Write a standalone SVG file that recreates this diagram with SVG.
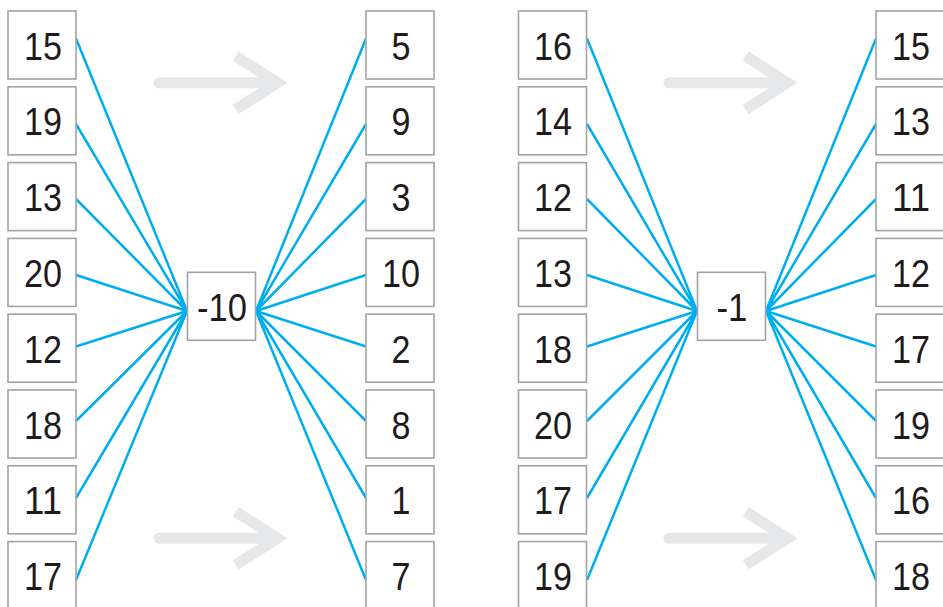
<svg xmlns="http://www.w3.org/2000/svg" width="943" height="607" viewBox="0 0 943 607">
<style>
.bx{fill:#fff;stroke:#a3a3a3;stroke-width:1.6}
.t{font-family:"Liberation Sans",Arial,sans-serif;font-size:39px;fill:#1f1b1c;text-anchor:middle}
.ln{stroke:#00aeef;stroke-width:2.5;fill:none}
.sh{stroke:#e6e7e8;stroke-width:11;stroke-linecap:round;fill:none}
.hd{stroke:#e6e7e8;stroke-width:11;stroke-linejoin:miter;stroke-miterlimit:4;stroke-linecap:butt;fill:none}
</style>
<rect width="943" height="607" fill="#fff"/>
<g id="arrows">
<line class="sh" x1="159" y1="82.8" x2="276" y2="82.8"/>
<polyline class="hd" points="235.7,56.2 277.4,82.8 235.7,109.4"/>
<line class="sh" x1="159" y1="538.3" x2="276" y2="538.3"/>
<polyline class="hd" points="235.7,511.7 277.4,538.3 235.7,564.9"/>
<line class="sh" x1="669" y1="82.8" x2="786" y2="82.8"/>
<polyline class="hd" points="745.7,56.2 787.4,82.8 745.7,109.4"/>
<line class="sh" x1="669" y1="538.3" x2="786" y2="538.3"/>
<polyline class="hd" points="745.7,511.7 787.4,538.3 745.7,564.9"/>
</g>
<g id="connectors">
<path class="ln" d="M76,38.5L187,311M76,124L187,311M76,199L187,311M76,275L187,311M76,346.5L187,311M76,421L187,311M76,498L187,311M76,580L187,311"/>
<path class="ln" d="M366,38.5L256,311M366,124L256,311M366,199L256,311M366,275L256,311M366,346.5L256,311M366,421L256,311M366,498L256,311M366,580L256,311"/>
<path class="ln" d="M587,38.5L697,311M587,124L697,311M587,199L697,311M587,275L697,311M587,346.5L697,311M587,421L697,311M587,498L697,311M587,580L697,311"/>
<path class="ln" d="M876,38.5L766,311M876,124L766,311M876,199L766,311M876,275L766,311M876,346.5L766,311M876,421L766,311M876,498L766,311M876,580L766,311"/>
</g>
<g id="g1-left">
<g id="n1-l1"><rect class="bx" x="8" y="11" width="68" height="68"/><text class="t" x="43" y="59.5" textLength="38" lengthAdjust="spacingAndGlyphs">15</text></g>
<g id="n1-l2"><rect class="bx" x="8" y="86.8" width="68" height="68"/><text class="t" x="43" y="135.3" textLength="38" lengthAdjust="spacingAndGlyphs">19</text></g>
<g id="n1-l3"><rect class="bx" x="8" y="162.6" width="68" height="68"/><text class="t" x="43" y="211.1" textLength="38" lengthAdjust="spacingAndGlyphs">13</text></g>
<g id="n1-l4"><rect class="bx" x="8" y="238.4" width="68" height="68"/><text class="t" x="43" y="286.9" textLength="38" lengthAdjust="spacingAndGlyphs">20</text></g>
<g id="n1-l5"><rect class="bx" x="8" y="314.2" width="68" height="68"/><text class="t" x="43" y="362.7" textLength="38" lengthAdjust="spacingAndGlyphs">12</text></g>
<g id="n1-l6"><rect class="bx" x="8" y="390" width="68" height="68"/><text class="t" x="43" y="438.5" textLength="38" lengthAdjust="spacingAndGlyphs">18</text></g>
<g id="n1-l7"><rect class="bx" x="8" y="465.8" width="68" height="68"/><text class="t" x="43" y="514.3" textLength="38" lengthAdjust="spacingAndGlyphs">11</text></g>
<g id="n1-l8"><rect class="bx" x="8" y="541.6" width="68" height="68"/><text class="t" x="43" y="590.1" textLength="38" lengthAdjust="spacingAndGlyphs">17</text></g>
</g>
<g id="n1-center"><rect class="bx" x="187.5" y="272.3" width="68" height="68"/><text class="t" x="222" y="320.8" textLength="50" lengthAdjust="spacingAndGlyphs">-10</text></g>
<g id="g1-right">
<g id="n1-r1"><rect class="bx" x="366" y="11" width="68" height="68"/><text class="t" x="401" y="59.5" textLength="19" lengthAdjust="spacingAndGlyphs">5</text></g>
<g id="n1-r2"><rect class="bx" x="366" y="86.8" width="68" height="68"/><text class="t" x="401" y="135.3" textLength="19" lengthAdjust="spacingAndGlyphs">9</text></g>
<g id="n1-r3"><rect class="bx" x="366" y="162.6" width="68" height="68"/><text class="t" x="401" y="211.1" textLength="19" lengthAdjust="spacingAndGlyphs">3</text></g>
<g id="n1-r4"><rect class="bx" x="366" y="238.4" width="68" height="68"/><text class="t" x="401" y="286.9" textLength="38" lengthAdjust="spacingAndGlyphs">10</text></g>
<g id="n1-r5"><rect class="bx" x="366" y="314.2" width="68" height="68"/><text class="t" x="401" y="362.7" textLength="19" lengthAdjust="spacingAndGlyphs">2</text></g>
<g id="n1-r6"><rect class="bx" x="366" y="390" width="68" height="68"/><text class="t" x="401" y="438.5" textLength="19" lengthAdjust="spacingAndGlyphs">8</text></g>
<g id="n1-r7"><rect class="bx" x="366" y="465.8" width="68" height="68"/><text class="t" x="401" y="514.3" textLength="19" lengthAdjust="spacingAndGlyphs">1</text></g>
<g id="n1-r8"><rect class="bx" x="366" y="541.6" width="68" height="68"/><text class="t" x="401" y="590.1" textLength="19" lengthAdjust="spacingAndGlyphs">7</text></g>
</g>
<g id="g2-left">
<g id="n2-l1"><rect class="bx" x="518.5" y="11" width="68" height="68"/><text class="t" x="553" y="59.5" textLength="38" lengthAdjust="spacingAndGlyphs">16</text></g>
<g id="n2-l2"><rect class="bx" x="518.5" y="86.8" width="68" height="68"/><text class="t" x="553" y="135.3" textLength="38" lengthAdjust="spacingAndGlyphs">14</text></g>
<g id="n2-l3"><rect class="bx" x="518.5" y="162.6" width="68" height="68"/><text class="t" x="553" y="211.1" textLength="38" lengthAdjust="spacingAndGlyphs">12</text></g>
<g id="n2-l4"><rect class="bx" x="518.5" y="238.4" width="68" height="68"/><text class="t" x="553" y="286.9" textLength="38" lengthAdjust="spacingAndGlyphs">13</text></g>
<g id="n2-l5"><rect class="bx" x="518.5" y="314.2" width="68" height="68"/><text class="t" x="553" y="362.7" textLength="38" lengthAdjust="spacingAndGlyphs">18</text></g>
<g id="n2-l6"><rect class="bx" x="518.5" y="390" width="68" height="68"/><text class="t" x="553" y="438.5" textLength="38" lengthAdjust="spacingAndGlyphs">20</text></g>
<g id="n2-l7"><rect class="bx" x="518.5" y="465.8" width="68" height="68"/><text class="t" x="553" y="514.3" textLength="38" lengthAdjust="spacingAndGlyphs">17</text></g>
<g id="n2-l8"><rect class="bx" x="518.5" y="541.6" width="68" height="68"/><text class="t" x="553" y="590.1" textLength="38" lengthAdjust="spacingAndGlyphs">19</text></g>
</g>
<g id="n2-center"><rect class="bx" x="697.5" y="272.3" width="68" height="68"/><text class="t" x="732" y="320.8" textLength="31" lengthAdjust="spacingAndGlyphs">-1</text></g>
<g id="g2-right">
<g id="n2-r1"><rect class="bx" x="876" y="11" width="68" height="68"/><text class="t" x="911" y="59.5" textLength="38" lengthAdjust="spacingAndGlyphs">15</text></g>
<g id="n2-r2"><rect class="bx" x="876" y="86.8" width="68" height="68"/><text class="t" x="911" y="135.3" textLength="38" lengthAdjust="spacingAndGlyphs">13</text></g>
<g id="n2-r3"><rect class="bx" x="876" y="162.6" width="68" height="68"/><text class="t" x="911" y="211.1" textLength="38" lengthAdjust="spacingAndGlyphs">11</text></g>
<g id="n2-r4"><rect class="bx" x="876" y="238.4" width="68" height="68"/><text class="t" x="911" y="286.9" textLength="38" lengthAdjust="spacingAndGlyphs">12</text></g>
<g id="n2-r5"><rect class="bx" x="876" y="314.2" width="68" height="68"/><text class="t" x="911" y="362.7" textLength="38" lengthAdjust="spacingAndGlyphs">17</text></g>
<g id="n2-r6"><rect class="bx" x="876" y="390" width="68" height="68"/><text class="t" x="911" y="438.5" textLength="38" lengthAdjust="spacingAndGlyphs">19</text></g>
<g id="n2-r7"><rect class="bx" x="876" y="465.8" width="68" height="68"/><text class="t" x="911" y="514.3" textLength="38" lengthAdjust="spacingAndGlyphs">16</text></g>
<g id="n2-r8"><rect class="bx" x="876" y="541.6" width="68" height="68"/><text class="t" x="911" y="590.1" textLength="38" lengthAdjust="spacingAndGlyphs">18</text></g>
</g>
</svg>
